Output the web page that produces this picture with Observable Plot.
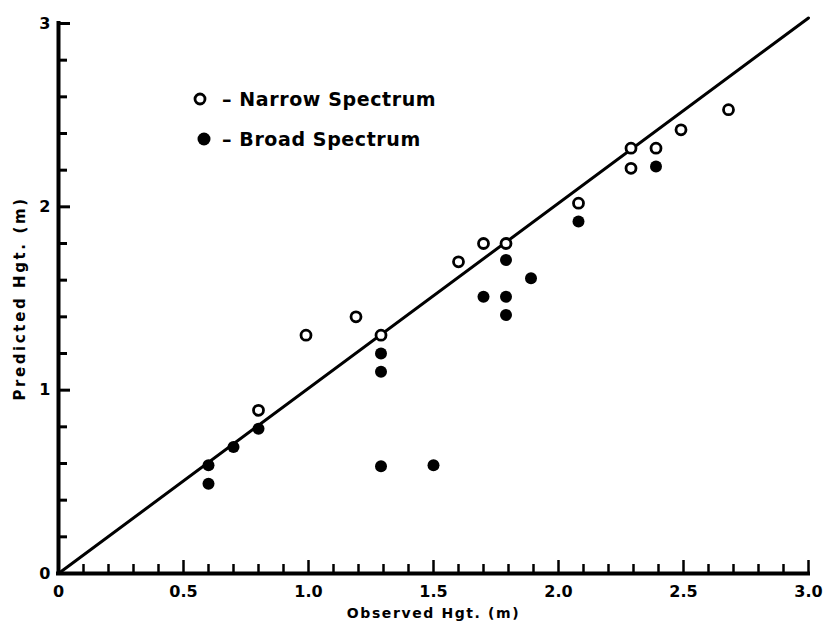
<!DOCTYPE html>
<html>
<head>
<meta charset="utf-8">
<script src="https://cdn.jsdelivr.net/npm/d3@7"></script>
<script src="https://cdn.jsdelivr.net/npm/@observablehq/plot@0.6"></script>
<style>
  html, body { margin: 0; padding: 0; background: #fff; }
  #wrap { position: relative; width: 826px; height: 623px; }
  #legend { position: absolute; left: 192px; top: 79px; font-family: "DejaVu Sans", sans-serif; font-weight: bold; font-size: 19px; letter-spacing: 0.6px; color: #000; }
  #legend div { display: flex; align-items: center; height: 40px; }
</style>
</head>
<body>
<div id="wrap"><div id="legend"></div></div>
<script>
// Narrow spectrum (open circles)
const narrowX = [0.99, 1.19, 1.29, 0.80, 1.60, 1.70, 1.79, 2.08, 2.29, 2.29, 2.39, 2.49, 2.68];
const narrowY = [1.30, 1.40, 1.30, 0.89, 1.70, 1.80, 1.80, 2.02, 2.32, 2.21, 2.32, 2.42, 2.53];
// Broad spectrum (filled circles)
const broadX = [0.60, 0.60, 0.70, 0.80, 1.29, 1.29, 1.29, 1.50, 1.70, 1.79, 1.79, 1.79, 1.89, 2.08, 2.39];
const broadY = [0.59, 0.49, 0.69, 0.79, 1.20, 1.10, 0.585, 0.59, 1.51, 1.71, 1.51, 1.41, 1.61, 1.92, 2.22];
// Agreement line
const lineX = [0, 3];
const lineY = [0, 3.03];
// Axis ticks and labels
const xTicks = d3.range(0, 31).map(i => i / 10);
const xLabels = [0, 0.5, 1.0, 1.5, 2.0, 2.5, 3.0];
const xLabelText = ["0", "0.5", "1.0", "1.5", "2.0", "2.5", "3.0"];
const yTicks = d3.range(0, 16).map(i => i / 5);
const yLabels = [0, 1, 2, 3];
const legendLabels = ["Narrow Spectrum", "Broad Spectrum"];
const xTitle = "Observed Hgt. (m)";
const yTitle = "Predicted Hgt. (m)";

const W = 826, H = 623;
const mL = 58, mR = 18, mT = 23, mB = 50;
const pxX = (W - mL - mR) / 3;  // px per unit x
const pxY = (H - mT - mB) / 3;  // px per unit y

const narrow = narrowX.map((x, i) => ({x, y: narrowY[i]}));
const broad = broadX.map((x, i) => ({x, y: broadY[i]}));
const line = lineX.map((x, i) => ({x, y: lineY[i]}));

const isMajorX = d => Math.abs(d * 2 - Math.round(d * 2)) < 1e-6;
const isMajorY = d => Math.abs(d - Math.round(d)) < 1e-6;

const font = "DejaVu Sans, sans-serif";

const chart = Plot.plot({
  width: W, height: H,
  marginLeft: mL, marginRight: mR, marginTop: mT, marginBottom: mB,
  x: {domain: [0, 3], axis: null},
  y: {domain: [0, 3], axis: null},
  style: {fontFamily: font, background: "#fff", overflow: "visible"},
  marks: [
    // axes lines
    Plot.ruleY([0], {x1: 0, x2: 3, y: d => d, stroke: "#000", strokeWidth: 4, strokeLinecap: "square"}),
    Plot.ruleX([0], {y1: 0, y2: 3, x: d => d, stroke: "#000", strokeWidth: 4, strokeLinecap: "square"}),
    // x ticks pointing up
    Plot.ruleX(xTicks, {x: d => d, y1: 0, y2: d => (isMajorX(d) ? 13 : 9) / pxY, stroke: "#000", strokeWidth: 2.5}),
    // y ticks pointing right
    Plot.ruleY(yTicks, {y: d => d, x1: 0, x2: d => (isMajorY(d) ? 12 : 9) / pxX, stroke: "#000", strokeWidth: 3}),
    // tick labels
    Plot.text(xLabels, {x: d => d, y: 0, dy: 18, lineAnchor: "middle", text: (d, i) => xLabelText[i], fontSize: 16, fontWeight: "bold", fill: "#000"}),
    Plot.text(yLabels, {x: 0, y: d => d, dx: -8, textAnchor: "end", lineAnchor: "middle", text: d => String(d), fontSize: 16, fontWeight: "bold", fill: "#000"}),
    // axis titles
    Plot.text([xTitle], {frameAnchor: "bottom", textAnchor: "middle", lineAnchor: "middle", dy: 40, text: d => d, fontSize: 14, fontWeight: "bold", fill: "#000"}),
    Plot.text([yTitle], {frameAnchor: "left", textAnchor: "middle", lineAnchor: "middle", dx: -38, rotate: -90, text: d => d, fontSize: 15, fontWeight: "bold", fill: "#000"}),
    // 1:1 line
    Plot.line(line, {x: "x", y: "y", stroke: "#000", strokeWidth: 3}),
    // data
    Plot.dot(broad, {x: "x", y: "y", r: 6, fill: "#000", stroke: "none"}),
    Plot.dot(narrow, {x: "x", y: "y", r: 5, fill: "#fff", stroke: "#000", strokeWidth: 2.8})
  ]
});
const wrap = document.getElementById("wrap");
wrap.insertBefore(chart, wrap.firstChild);
// letter spacing for the titles
chart.querySelectorAll("text").forEach(t => {
  if (t.textContent === yTitle) t.setAttribute("letter-spacing", "2.6");
  if (t.textContent === xTitle) t.setAttribute("letter-spacing", "1.6");
});

const legend = document.getElementById("legend");
legendLabels.forEach((lab, i) => {
  const row = document.createElement("div");
  const icon = i === 0
    ? '<svg width="16" height="16" style="margin-right:14px"><circle cx="8" cy="8" r="5" fill="#fff" stroke="#000" stroke-width="2.8"/></svg>'
    : '<svg width="16" height="16" style="margin-left:4px;margin-right:10px"><circle cx="8" cy="8" r="6.5" fill="#000"/></svg>';
  row.innerHTML = icon + '<span>\u2013 ' + lab + '</span>';
  legend.appendChild(row);
});
</script>
</body>
</html>
